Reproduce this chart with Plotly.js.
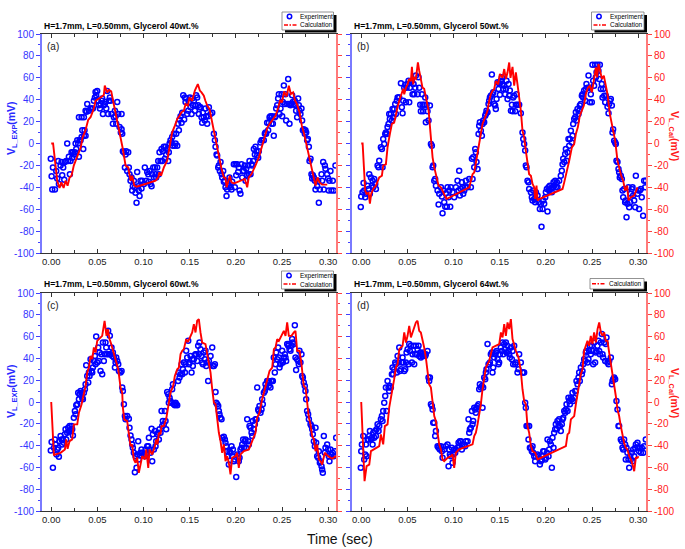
<!DOCTYPE html>
<html><head><meta charset="utf-8">
<script src="https://cdn.plot.ly/plotly-3.0.1.min.js"></script>
<style>html,body{margin:0;padding:0;background:#fff}#chart{width:685px;height:549px}</style>
</head><body><div id="chart"></div>
<script>
// ---------------- DATA ----------------
const panelTitles = ["H=1.7mm, L=0.50mm, Glycerol 40wt.%","H=1.7mm, L=0.50mm, Glycerol 50wt.%","H=1.7mm, L=0.50mm, Glycerol 60wt.%","H=1.7mm, L=0.50mm, Glycerol 64wt.%"];
const panelLabels = ["(a)","(b)","(c)","(d)"];
const xTickVals = [0,0.05,0.10,0.15,0.20,0.25,0.30];
const xTickText = ["0.00","0.05","0.10","0.15","0.20","0.25","0.30"];
const yTickVals = [-100,-80,-60,-40,-20,0,20,40,60,80,100];
const yTickText = ["-100","-80","-60","-40","-20","0","20","40","60","80","100"];

// Experiment (time s, mV) and Calculation (time s, mV)
const expA = [[-0.0005,-14],[0.0004,-30],[0.0018,-22],[0.0011,-42],[0.0040,-42],[0.0054,-25],[0.0065,-32],[0.0076,-16],[0.0083,-37],[0.0101,-20],[0.0112,-17],[0.0119,-29],[0.0130,-22],[0.0141,-33],[0.0148,-17],[0.0162,-16],[0.0173,0],[0.0184,-16],[0.0191,-12],[0.0202,-28],[0.0209,-16],[0.0220,-8],[0.0227,-13],[0.0235,-8],[0.0245,-10],[0.0256,-8],[0.0264,0],[0.0271,-5],[0.0282,3],[0.0292,0],[0.0300,-12],[0.0307,3],[0.0318,3],[0.0329,6],[0.0336,12],[0.0347,-5],[0.0354,7],[0.0361,12],[0.0372,7],
[0.0300,24],[0.0329,24],[0.0354,24],[0.0372,30],[0.0383,29],[0.0390,36],[0.0408,30],[0.0426,32],[0.0437,32],[0.0451,32],[0.0462,39],[0.0473,42],[0.0480,47],[0.0487,44],[0.0498,48],[0.0505,39],[0.0516,35],[0.0527,32],[0.0534,36],[0.0545,39],[0.0552,41],[0.0560,27],[0.0570,35],[0.0581,36],[0.0588,38],[0.0596,32],[0.0606,48],[0.0617,27],[0.0625,39],[0.0635,42],[0.0643,39],[0.0653,27],[0.0668,18],[0.0679,24],[0.0690,30],[0.0697,25],[0.0704,18],[0.0715,38],[0.0726,27],[0.0740,15],[0.0754,10],[0.0762,27],[0.0769,9],
[0.0762,13],[0.0776,-7],[0.0787,-8],[0.0798,-22],[0.0805,-10],[0.0812,-7],[0.0823,-25],[0.0834,-8],[0.0841,-22],[0.0848,-28],[0.0859,-34],[0.0870,-31],[0.0877,-43],[0.0884,-39],[0.0895,-34],[0.0906,-40],[0.0913,-45],[0.0924,-54],[0.0931,-26],[0.0942,-39],[0.0949,-43],[0.0957,-48],[0.0967,-34],[0.0978,-41],
[0.0986,-34],[0.1004,-37],[0.1014,-22],[0.1029,-34],[0.1040,-26],[0.1051,-28],[0.1058,-35],[0.1065,-25],[0.1076,-37],[0.1087,-39],[0.1094,-28],[0.1105,-22],[0.1112,-31],[0.1123,-22],[0.1130,-28],[0.1137,-31],[0.1148,-22],[0.1159,-16],[0.1166,-28],[0.1173,-8],[0.1184,-16],[0.1195,-5],[0.1202,-16],[0.1209,-7],[0.1220,-3],[0.1231,-14],[0.1238,-3],[0.1245,-10],[0.1256,-5],[0.1267,-16],[0.1274,-8],[0.1282,0],[0.1292,3],[0.1303,1],[0.1310,6],[0.1318,-2],[0.1328,9],[0.1339,-2],[0.1347,0],[0.1354,9],[0.1365,-2],[0.1375,18],[0.1383,12],[0.1390,22],[0.1401,25],[0.1412,19],[0.1419,28],[0.1430,44],[0.1440,22],[0.1448,42],[0.1455,38],[0.1462,41],[0.1473,27],[0.1484,30],[0.1491,38],[0.1502,42],[0.1509,33],[0.1520,27],[0.1527,41],[0.1534,35],[0.1545,39],[0.1556,30],[0.1563,35],[0.1570,44],[0.1581,42],[0.1592,35],[0.1599,27],[0.1606,33],[0.1617,33],[0.1628,24],[0.1635,19],[0.1643,28],[0.1653,24],[0.1664,21],[0.1671,32],[0.1679,25],[0.1689,18],[0.1700,25],[0.1708,33],[0.1726,27],[0.1744,28],
[0.1762,9],[0.1773,3],[0.1780,-3],[0.1791,-10],[0.1798,-11],[0.1809,-22],[0.1816,-20],[0.1827,-25],[0.1834,-17],[0.1845,-28],[0.1852,-31],[0.1863,-25],[0.1870,-35],[0.1881,-34],[0.1888,-40],[0.1899,-48],[0.1906,-42],[0.1917,-37],[0.1924,-39],[0.1931,-31],[0.1942,-40],[0.1953,-42],[0.1960,-35],[0.1978,-19],[0.1989,-40],[0.1996,-19],[0.2004,-29],[0.2014,-19],[0.2025,-26],[0.2032,-22],[0.2040,-43],[0.2050,-46],[0.2061,-19],[0.2069,-31],[0.2079,-25],[0.2087,-25],[0.2097,-20],[0.2105,-34],[0.2112,-23],[0.2123,-29],[0.2134,-20],[0.2141,-28],[0.2148,-16],[0.2159,-28],[0.2170,-19],[0.2177,-20],[0.2188,-16],[0.2195,-5],[0.2206,-10],[0.2213,-3],[0.2224,-7],[0.2231,-11],[0.2242,-13],[0.2249,-7],[0.2267,1],[0.2278,3],[0.2285,3],[0.2303,3],[0.2314,9],[0.2321,10],[0.2328,9],[0.2339,19],[0.2350,12],[0.2357,19],[0.2365,24],[0.2375,25],[0.2386,18],[0.2393,25],[0.2401,18],[0.2411,7],[0.2422,24],[0.2430,25],[0.2437,32],[0.2448,35],[0.2458,41],[0.2466,45],[0.2473,27],[0.2484,32],[0.2495,45],[0.2502,25],[0.2509,38],[0.2520,53],[0.2531,36],[0.2538,45],[0.2545,21],[0.2556,36],[0.2567,59],[0.2574,36],[0.2581,18],[0.2592,35],[0.2603,36],[0.2610,44],[0.2617,38],[0.2628,36],[0.2639,39],[0.2646,35],[0.2653,30],[0.2664,24],[0.2675,41],[0.2682,35],[0.2689,30],[0.2700,27],[0.2711,32],[0.2718,21],[0.2726,12],[0.2736,13],[0.2747,9],[0.2754,12],[0.2762,10],[0.2772,3],[0.2780,4],[0.2791,-3],[0.2798,-16],[0.2809,-14],[0.2819,-28],[0.2827,-32],[0.2834,-29],[0.2845,-31],[0.2856,-34],[0.2863,-42],[0.2881,-39],[0.2892,-34],[0.2899,-54],[0.2910,-42],[0.2928,-28],[0.2935,-34],[0.2946,-17],[0.2953,-42],[0.2964,-20],[0.2971,-23],[0.2989,-28],[0.3000,-32],[0.3007,-43],[0.3014,-34],[0.3025,-25],[0.3036,-43],[0.3050,-34],[0.3061,-43],[0.3079,-20]];

const calA = [[0,0],[0.002,0],[0.0065,-34],[0.009,-40.6],[0.011,-35.5],[0.0134,-40.6],[0.0155,-34],[0.0177,-38.5],[0.0199,-31],[0.022,-29.4],[0.0245,-20],[0.028,-12.6],[0.032,-3.5],[0.034,5.6],[0.037,11.7],[0.040,21.5],[0.0426,24],[0.046,31.5],[0.048,39],[0.0534,42],[0.057,44.3],[0.058,52.8],[0.0606,46.7],[0.0625,48.9],[0.065,47.6],[0.067,39],[0.0697,28.5],[0.0726,16.3],[0.075,5.6],[0.0776,-5],[0.0805,-20],[0.0834,-21.8],[0.086,-34],[0.0877,-29.4],[0.090,-38.5],[0.0924,-39.4],[0.102,-37],[0.113,-34],[0.1159,-31],[0.1173,-26.3],[0.119,-29.4],[0.122,-21.8],[0.1256,-15.7],[0.129,-0.5],[0.131,10.2],[0.134,16.3],[0.1365,22.4],[0.139,25.4],[0.141,28.5],[0.1437,30],[0.1455,36],[0.148,34.6],[0.1498,42],[0.1527,39],[0.1556,48.3],[0.1588,54.3],[0.161,48.3],[0.1628,46.7],[0.1653,43.7],[0.167,39],[0.169,34.6],[0.1715,31.5],[0.1736,20.9],[0.1758,13.2],[0.178,4],[0.180,-5],[0.1823,-15.7],[0.1845,-23.3],[0.187,-31],[0.1888,-31.5],[0.190,-40],[0.1917,-35.5],[0.1935,-29.4],[0.1953,-35.5],[0.198,-36.4],[0.2097,-32.4],[0.2123,-40],[0.214,-31],[0.217,-27.9],[0.2213,-20],[0.225,-12.6],[0.2285,-2],[0.2314,7.2],[0.2343,14.8],[0.237,18.4],[0.240,22.4],[0.243,25.4],[0.2458,32.4],[0.248,39.7],[0.250,37.6],[0.2523,47.6],[0.2549,42.8],[0.2574,52.8],[0.2596,45.2],[0.262,46.7],[0.2639,39.7],[0.2664,35.5],[0.269,28.5],[0.2715,16.3],[0.274,8.7],[0.2765,-0.5],[0.279,-9.6],[0.282,-20],[0.2845,-31],[0.2863,-38.5],[0.2884,-31],[0.2906,-35.5],[0.2935,-37.6],[0.299,-37.6]];

const expB = [[-0.0005,-58],[0,-48.5],[0.0014,-44.6],[0.0025,-36],[0.0032,-43],[0.0043,-49],[0.0051,-46],[0.0069,-38.5],[0.0079,-41.5],[0.0087,-28],[0.0094,-46],[0.0105,-31],[0.0116,-38.5],[0.0123,-34],[0.0130,-40],[0.0141,-32.4],[0.0152,-37],[0.0159,-41.5],[0.0177,-20],[0.0188,-21.8],[0.0195,-15.7],[0.0213,-3.5],[0.0224,-5],[0.0231,-21.8],[0.0238,4],[0.0249,-0.5],[0.0260,8.7],[0.0267,10],[0.0278,8.7],[0.0285,15],[0.0296,17.8],[0.0303,27],[0.0310,22.4],[0.0321,27],[0.0332,21],[0.0339,31.5],[0.0346,24],[0.0357,31.5],[0.0368,36],[0.0375,27],[0.0386,39],[0.0394,42],[0.0404,42],[0.0412,42],[0.0430,55],[0.0440,33],[0.0448,27.6],[0.0455,39],[0.0466,51],[0.0477,53.7],[0.0484,37.6],[0.0491,51],[0.0502,54.3],[0.0513,57.4],[0.0520,37.6],[0.0527,51],[0.0538,56],[0.0549,57.4],[0.0556,45],[0.0567,54.3],[0.0574,45],[0.0585,51],[0.0592,62],[0.0610,45],[0.0621,60.4],[0.0628,51],[0.0639,35.5],[0.0646,29.4],[0.0657,45],[0.0664,35.5],[0.0671,29.4],[0.0682,35.5],[0.0693,42],[0.0700,19.3],[0.0708,35.5],[0.0718,29.4],[0.0729,21],[0.0744,34.6],[0.0755,-0.5],[0.0765,-2],[0.0773,-21.8],[0.0780,-20],[0.0791,-34],[0.0801,-32.4],[0.0809,-38.5],[0.0827,-43],[0.0838,-55.8],[0.0845,-46],[0.0863,-40],[0.0874,-48.5],[0.0881,-63.8],[0.0888,-43],[0.0899,-53.7],[0.0910,-57.7],[0.0917,-45.5],[0.0928,-57.7],[0.0935,-40],[0.0946,-49],[0.0953,-43],[0.0964,-57.7],[0.0971,-40],[0.0989,-44.6],[0.1007,-49],[0.1025,-40],[0.1043,-34],[0.1054,-43],[0.1061,-24.8],[0.1069,-47.6],[0.1079,-41.5],[0.1090,-35.5],[0.1097,-40],[0.1105,-46],[0.1116,-43],[0.1126,-40],[0.1134,-34],[0.1152,-40],[0.1170,-32.4],[0.1188,-40],[0.1199,-14],[0.1206,-32.4],[0.1213,-12.6],[0.1224,-21.8],[0.1235,-5],[0.1242,-8],[0.1249,-17],[0.1260,-23.3],[0.1271,8.7],[0.1278,16.3],[0.1285,19.3],[0.1296,11.7],[0.1307,7],[0.1314,17.8],[0.1321,21],[0.1332,19.3],[0.1343,25.4],[0.1350,27],[0.1357,30],[0.1368,28.5],[0.1379,36],[0.1386,39],[0.1394,42],[0.1404,43.7],[0.1415,62.9],[0.1422,45],[0.1430,46.7],[0.1440,36],[0.1451,34.6],[0.1458,31.5],[0.1466,40.6],[0.1477,55.9],[0.1487,49.8],[0.1494,55],[0.1502,44.6],[0.1512,57.4],[0.1523,60.4],[0.1530,54.3],[0.1538,49.8],[0.1549,52.8],[0.1559,45],[0.1567,49.8],[0.1574,57.4],[0.1585,40.6],[0.1596,54.3],[0.1603,43.7],[0.1610,48.3],[0.1621,30],[0.1632,35.5],[0.1639,29.4],[0.1646,42],[0.1657,43.7],[0.1668,29.4],[0.1675,35.5],[0.1682,45],[0.1693,35.5],[0.1711,35.5],[0.1729,27.6],[0.1747,10],[0.1755,4],[0.1765,-0.5],[0.1776,-6.5],[0.1783,-20],[0.1791,-21.8],[0.1801,-34],[0.1812,-35.5],[0.1819,-41.5],[0.1838,-44.6],[0.1848,-49],[0.1856,-52],[0.1863,-43],[0.1874,-50.7],[0.1884,-53.7],[0.1892,-44.6],[0.1910,-47.6],[0.1921,-53.7],[0.1935,-59.8],[0.1946,-55],[0.1953,-76],[0.1964,-59.8],[0.1971,-52],[0.1982,-55],[0.1993,-49],[0.2000,-44.6],[0.2011,-41.5],[0.2018,-62],[0.2029,-40],[0.2036,-43],[0.2043,-38.5],[0.2054,-41.5],[0.2065,-44.6],[0.2072,-40],[0.2083,-35.5],[0.2090,-38.5],[0.2101,-34],[0.2108,-40],[0.2119,-35.5],[0.2126,-40],[0.2144,-34],[0.2162,-29.4],[0.2173,-24.8],[0.2181,-19],[0.2188,-14],[0.2199,-17],[0.2209,-9.6],[0.2217,-5],[0.2224,-15.7],[0.2235,-8],[0.2245,4],[0.2253,-2],[0.2260,4],[0.2271,11.7],[0.2282,1],[0.2289,7],[0.2296,17.8],[0.2307,22.4],[0.2318,24],[0.2325,28.5],[0.2332,21],[0.2343,31.5],[0.2354,27],[0.2361,30],[0.2368,34.6],[0.2379,36],[0.2390,43.7],[0.2397,45],[0.2404,42],[0.2415,48.3],[0.2426,39],[0.2433,49.8],[0.2440,54.3],[0.2451,51],[0.2462,62],[0.2469,51],[0.2477,37.6],[0.2487,45],[0.2498,37.6],[0.2505,72],[0.2513,57.4],[0.2523,52.8],[0.2534,72],[0.2542,60.4],[0.2549,65],[0.2559,72],[0.2570,66.5],[0.2578,59],[0.2585,72],[0.2596,49.8],[0.2606,54.3],[0.2614,42],[0.2621,49.8],[0.2632,43.7],[0.2643,37.6],[0.2650,43.7],[0.2668,33.6],[0.2679,27.6],[0.2686,36],[0.2693,39],[0.2704,40.6],[0.2715,34.6],[0.2722,10],[0.2729,13],[0.2740,2.6],[0.2751,1],[0.2758,-0.5],[0.2765,-15.7],[0.2776,-17],[0.2787,-23.3],[0.2794,-26.3],[0.2801,-31],[0.2812,-29.4],[0.2823,-32.4],[0.2830,-43],[0.2838,-49],[0.2848,-41.5],[0.2859,-53.7],[0.2866,-52],[0.2874,-67.4],[0.2884,-55],[0.2895,-40],[0.2903,-58.3],[0.2913,-53.7],[0.2920,-46],[0.2931,-41.5],[0.2939,-40],[0.2946,-47.6],[0.2957,-52],[0.2968,-58.3],[0.2975,-29.4],[0.2993,-46],[0.3003,-43],[0.3010,-59.8],[0.3018,-43],[0.3029,-41.5],[0.3039,-49],[0.3054,-66],[0.3065,-34],[0.3076,-40],[0.3083,-34]];

const calB = [[0,0],[0.0015,0],[0.0043,-43],[0.0058,-46],[0.008,-45],[0.0094,-55],[0.0108,-46],[0.013,-41.5],[0.0159,-38.5],[0.0177,-35.5],[0.0195,-31],[0.0224,-29.4],[0.0238,-20],[0.0267,-19],[0.0285,-3.5],[0.031,8.7],[0.0332,18],[0.0357,19],[0.0375,27],[0.0393,33],[0.0412,39],[0.044,45],[0.0455,50],[0.0466,45],[0.0484,51],[0.0502,54],[0.052,59],[0.0538,57],[0.0549,70],[0.0563,54],[0.0574,60],[0.0592,59],[0.0614,74],[0.0628,66.5],[0.0646,57],[0.0664,51],[0.0682,50],[0.0708,40.6],[0.073,30],[0.0751,9],[0.0773,-12.6],[0.0791,-21.8],[0.0809,-28],[0.0838,-38.5],[0.0863,-40],[0.0881,-43],[0.0899,-46],[0.0924,-50.7],[0.1170,-40],[0.1188,-34],[0.1206,-28],[0.1224,-26.5],[0.1249,-14],[0.1271,-5],[0.1296,8.7],[0.1314,17.8],[0.1343,24],[0.1368,30],[0.1386,39],[0.1404,45],[0.1422,48],[0.144,49.5],[0.1458,57],[0.1484,54],[0.1502,63.5],[0.1531,60],[0.1549,68],[0.1567,59],[0.1585,65],[0.1603,74],[0.1617,60],[0.1639,70],[0.1657,52.8],[0.1675,65],[0.1693,54],[0.1711,43.7],[0.1729,30],[0.1747,11.7],[0.1765,5.6],[0.1783,-6.5],[0.1801,-19],[0.1819,-28],[0.1838,-29.4],[0.1856,-37],[0.1874,-40],[0.1884,-50.7],[0.1899,-38.5],[0.191,-52],[0.1928,-50.7],[0.2181,-41.5],[0.2199,-35.5],[0.2217,-29.4],[0.2235,-21.8],[0.2253,-15.7],[0.2282,-3.5],[0.2307,-0.5],[0.2325,8.7],[0.2347,15],[0.2368,25.4],[0.239,30],[0.2412,34.6],[0.2433,45],[0.2455,51],[0.2477,52.8],[0.2498,46.7],[0.252,57.4],[0.2542,69.6],[0.2556,60.4],[0.2570,72.6],[0.2588,66.5],[0.2607,59],[0.2628,62],[0.265,52.8],[0.2668,45],[0.2693,27],[0.2715,17.8],[0.2729,11.7],[0.2751,2.6],[0.2776,-15.7],[0.2794,-21.8],[0.2816,-29.4],[0.2838,-34],[0.2859,-43],[0.2881,-38.5],[0.2895,-52],[0.2921,-49],[0.2957,-47.6],[0.2993,-40]];

const expC = [[-0.0005,-44.5],[0.0004,-36.8],[0.0018,-60.4],[0.0029,-42],[0.0040,-34.3],[0.0047,-38.9],[0.0058,-48.1],[0.0065,-43.5],[0.0076,-42],[0.0083,-50.3],[0.0090,-35.9],[0.0101,-31.3],[0.0112,-34.3],[0.0119,-38.9],[0.0126,-34.3],[0.0137,-37.4],[0.0148,-29.7],[0.0155,-25.1],[0.0162,-34.3],[0.0173,-28.2],[0.0184,-23.6],[0.0191,-26.7],[0.0199,-22.1],[0.0209,-26.7],[0.0220,-22.1],[0.0227,-25.1],[0.0235,-30.7],[0.0245,-14.4],[0.0256,-8.3],[0.0264,-11.3],[0.0271,-3],[0.0282,-2.1],[0.0292,8.6],[0.0300,2.5],[0.0307,7],[0.0318,10.1],[0.0329,8.6],[0.0336,4],[0.0343,2.5],[0.0354,8.6],[0.0365,11.7],[0.0372,16.2],[0.0379,33.7],[0.0390,23.9],[0.0401,17.8],[0.0408,27],[0.0415,23.9],[0.0426,39.3],[0.0437,28.5],[0.0444,27],[0.0451,31.6],[0.0462,37.7],[0.0473,42.3],[0.0480,34.7],[0.0487,60.1],[0.0498,36.2],[0.0509,50],[0.0516,37.7],[0.0523,45.4],[0.0534,28.5],[0.0545,43.9],[0.0552,25.4],[0.0560,54.6],[0.0570,37.7],[0.0581,43.9],[0.0588,54.6],[0.0596,50],[0.0606,43.9],[0.0617,65.3],[0.0625,43.9],[0.0635,60.7],[0.0643,43.9],[0.0653,50],[0.0661,42.3],[0.0668,45.4],[0.0679,40.8],[0.0690,31.6],[0.0697,36.2],[0.0704,40.8],[0.0715,37.7],[0.0726,34.7],[0.0733,28.5],[0.0751,27],[0.0762,28.5],[0.0769,13.2],[0.0776,10.1],[0.0787,-2.1],[0.0798,-12.9],[0.0805,-15.9],[0.0823,-12.9],[0.0841,-15.3],[0.0848,-23.6],[0.0859,-30.7],[0.0870,-34.3],[0.0877,-38.9],[0.0884,-42],[0.0895,-46.6],[0.0906,-64.4],[0.0913,-49.7],[0.0924,-60.4],[0.0931,-48.1],[0.0942,-35.9],[0.0949,-52.7],[0.0957,-49.1],[0.0967,-46.6],[0.0978,-43.5],[0.0986,-46.6],[0.1004,-48.1],[0.1014,-49.7],[0.1022,-43.5],[0.1029,-48.1],[0.1040,-40.5],[0.1051,-40.5],[0.1058,-32.8],[0.1065,-43.5],[0.1076,-46.6],[0.1087,-24.5],[0.1094,-54.3],[0.1101,-29.7],[0.1112,-43.5],[0.1123,-26.7],[0.1130,-40.5],[0.1137,-35.9],[0.1148,-29.7],[0.1159,-28.2],[0.1166,-34.3],[0.1173,-25.1],[0.1184,-28.2],[0.1195,-8.3],[0.1202,-22.1],[0.1209,-17.5],[0.1220,-20.5],[0.1231,-8.3],[0.1238,-17.5],[0.1245,-25.1],[0.1256,9.2],[0.1267,7],[0.1274,-0.6],[0.1282,4],[0.1292,0.9],[0.1303,-0.6],[0.1310,11.7],[0.1318,16.2],[0.1328,-2.1],[0.1339,-3],[0.1347,-0.6],[0.1354,-2.1],[0.1365,-3],[0.1375,19.3],[0.1383,27],[0.1390,22.4],[0.1401,25.4],[0.1412,34.7],[0.1419,25.4],[0.1426,30],[0.1437,36.2],[0.1448,27],[0.1455,34.7],[0.1462,47],[0.1473,40.8],[0.1484,56.1],[0.1491,34.7],[0.1498,36.2],[0.1509,42.3],[0.1520,27],[0.1527,39.3],[0.1534,33.1],[0.1545,39.3],[0.1556,43],[0.1563,43.9],[0.1570,43.9],[0.1581,37.7],[0.1592,51.5],[0.1599,43.9],[0.1606,54.6],[0.1617,48.5],[0.1628,42.3],[0.1635,36.2],[0.1643,34.7],[0.1653,45.4],[0.1664,39.3],[0.1671,47],[0.1679,33.1],[0.1689,36.2],[0.1700,19.3],[0.1708,37.7],[0.1726,42.3],[0.1744,50],[0.1751,33.1],[0.1762,33.1],[0.1773,34.7],[0.1780,9.2],[0.1787,-0.6],[0.1798,-2.1],[0.1809,-3.7],[0.1816,-8.3],[0.1823,-11.3],[0.1834,-14.4],[0.1845,-15.9],[0.1852,-32.8],[0.1870,-31.9],[0.1881,-34.3],[0.1888,-37.4],[0.1895,-40.5],[0.1906,-45.1],[0.1917,-49.7],[0.1924,-57.4],[0.1931,-45.1],[0.1942,-46.6],[0.1953,-40.5],[0.1960,-49.7],[0.1968,-43.5],[0.1978,-54.3],[0.1989,-52.7],[0.2004,-68.7],[0.2014,-48.1],[0.2025,-49.7],[0.2032,-54.3],[0.2040,-51.2],[0.2050,-43.5],[0.2061,-42],[0.2069,-38.9],[0.2079,-34.3],[0.2087,-42],[0.2097,-35.9],[0.2105,-34.3],[0.2112,-42],[0.2123,-15.9],[0.2134,-35.9],[0.2141,-38.9],[0.2148,-22.1],[0.2159,-23.6],[0.2170,-28.2],[0.2177,-31.3],[0.2184,-17.5],[0.2195,-25.1],[0.2206,-20.5],[0.2213,-15.9],[0.2224,-15.9],[0.2231,13.2],[0.2242,-6.8],[0.2249,-8.3],[0.2256,-3.7],[0.2267,-9.8],[0.2278,-6.8],[0.2285,2.5],[0.2292,-2.1],[0.2303,8.6],[0.2314,10.1],[0.2321,16.2],[0.2328,13.2],[0.2339,19.3],[0.2350,19.3],[0.2357,14.7],[0.2365,17.8],[0.2375,13.2],[0.2386,19.3],[0.2393,19.3],[0.2401,19.3],[0.2411,40.8],[0.2422,27],[0.2430,34.7],[0.2437,45.4],[0.2448,39.3],[0.2458,50],[0.2466,40.8],[0.2473,31.6],[0.2484,34.7],[0.2495,37.7],[0.2502,47],[0.2509,36.2],[0.2520,40.8],[0.2531,43.9],[0.2538,40.8],[0.2545,37.7],[0.2556,53.1],[0.2567,51.5],[0.2574,53.1],[0.2581,48.5],[0.2592,47],[0.2603,51.5],[0.2610,57.7],[0.2617,54.6],[0.2628,53.1],[0.2639,70.5],[0.2646,40.8],[0.2653,29.4],[0.2664,39.3],[0.2675,37.7],[0.2682,34.7],[0.2689,47],[0.2700,36.2],[0.2711,43.9],[0.2718,23.9],[0.2726,22.4],[0.2736,17.8],[0.2747,14.7],[0.2754,10.1],[0.2762,2.5],[0.2772,-8.3],[0.2783,-11.3],[0.2791,-15.9],[0.2809,-20.5],[0.2819,-22.1],[0.2827,-25.1],[0.2834,-29.7],[0.2845,-35.9],[0.2856,-40.5],[0.2863,-23.6],[0.2870,-37.4],[0.2881,-49.7],[0.2892,-51.2],[0.2899,-45.1],[0.2910,-55.8],[0.2917,-54.3],[0.2928,-58.9],[0.2935,-62],[0.2942,-65],[0.2953,-31.3],[0.2964,-46.6],[0.2971,-42],[0.2989,-38.9],[0.3000,-43.5],[0.3007,-49.7],[0.3014,-54.3],[0.3025,-43.5],[0.3036,-48.1],[0.3050,-46.6],[0.3061,-49.7],[0.3072,-45.1],[0.3087,-32.8]];

const calC = [[0,0],[0.0029,-49],[0.0047,-48],[0.0101,-46.6],[0.0148,-43.5],[0.0162,-34.3],[0.0177,-42.9],[0.0199,-35.9],[0.0227,-34.3],[0.0245,-20.5],[0.0282,-20.5],[0.030,-9.8],[0.0329,-2.1],[0.0354,8.6],[0.0372,14.7],[0.039,27],[0.0408,31.6],[0.0426,42.3],[0.0444,39.3],[0.0462,50],[0.048,45.4],[0.0498,56.1],[0.0552,60.7],[0.0578,74.5],[0.0599,60.7],[0.0614,66.9],[0.0632,57.7],[0.065,53.1],[0.0668,47],[0.0697,37.7],[0.0726,30],[0.0751,13.2],[0.0769,8.6],[0.0776,-5.2],[0.0791,-15.9],[0.0823,-17.5],[0.0841,-31.3],[0.0859,-40.5],[0.0877,-39],[0.0895,-52.7],[0.0913,-55.8],[0.0931,-51],[0.0949,-65],[0.0968,-55.8],[0.0986,-49.7],[0.1014,-52.7],[0.1029,-43.5],[0.1051,-60.4],[0.1065,-43.5],[0.1094,-48.1],[0.1123,-40.5],[0.1137,-34.3],[0.1152,-38.9],[0.1166,-28.2],[0.1184,-29.7],[0.1195,-22.1],[0.122,-22.1],[0.1245,-15.9],[0.1274,-0.6],[0.1292,8.6],[0.1321,14.7],[0.1339,23.9],[0.1365,30],[0.1383,31.6],[0.1401,43.9],[0.1419,47],[0.1437,48.5],[0.1462,57.7],[0.148,55],[0.1509,60.7],[0.1527,63.8],[0.1545,71.5],[0.1563,63.8],[0.1581,74.5],[0.1599,76],[0.1617,63.8],[0.1635,54.6],[0.1671,53.1],[0.1708,34.7],[0.1726,27],[0.1744,11.7],[0.1762,-0.6],[0.178,-2.1],[0.1798,-15.9],[0.1816,-28.2],[0.1834,-35.9],[0.1852,-46.6],[0.187,-38.9],[0.1888,-54.3],[0.1906,-49.7],[0.1924,-55.8],[0.1942,-66.5],[0.196,-51.2],[0.1996,-49.7],[0.2014,-46.6],[0.2032,-60.4],[0.2051,-48.1],[0.2087,-45.1],[0.2141,-43.5],[0.2177,-35.9],[0.2213,-28.2],[0.2231,-14.4],[0.2256,-9.8],[0.2285,2.5],[0.2314,11.7],[0.2339,20.9],[0.2365,28.5],[0.2394,31.6],[0.2412,48.5],[0.243,50],[0.2448,57.7],[0.2466,56.1],[0.2495,60.7],[0.252,65.3],[0.2538,60.7],[0.2556,73],[0.2574,60.7],[0.2603,60.7],[0.2628,63.8],[0.2646,65.3],[0.2664,47],[0.269,47],[0.2711,34.7],[0.2736,14.7],[0.2755,13.2],[0.2773,-0.6],[0.2791,-14.4],[0.2809,-20.5],[0.2827,-31.3],[0.2845,-34.3],[0.2863,-45.1],[0.2881,-38.9],[0.2899,-52.7],[0.2917,-54.3],[0.2935,-57.4],[0.2964,-46.6],[0.300,-49.7],[0.3043,-52],[0.3087,-49.7]];

const expD = [[-0.0005,-60.4],[0,-45.1],[0.0007,-38.9],[0.0022,-31.3],[0.0032,-52.7],[0.0043,-48.1],[0.0051,-38.9],[0.0058,-49.7],[0.0069,-34.3],[0.0079,-34.3],[0.0087,-31.3],[0.0094,-26.7],[0.0105,-34.3],[0.0116,-32.8],[0.0123,-38.9],[0.0130,-28.2],[0.0141,-32.8],[0.0152,-26.7],[0.0159,-31.3],[0.0166,-25.1],[0.0177,-20.5],[0.0188,-26.7],[0.0195,-22.1],[0.0213,-15.9],[0.0224,-12.9],[0.0231,-17.5],[0.0238,-8.3],[0.0249,-0.6],[0.0260,5.5],[0.0267,13.2],[0.0274,-8.3],[0.0285,19.3],[0.0296,13.2],[0.0303,10.1],[0.0310,14.7],[0.0321,13.2],[0.0332,25.4],[0.0339,31.6],[0.0346,25.4],[0.0357,30],[0.0368,36.2],[0.0375,34.7],[0.0386,27],[0.0394,42.3],[0.0404,36.2],[0.0412,50],[0.0419,28.5],[0.0430,30],[0.0440,36.2],[0.0448,40.8],[0.0455,36.2],[0.0466,28.5],[0.0477,30],[0.0484,36.2],[0.0491,45.4],[0.0502,48.5],[0.0513,34.7],[0.0520,53.1],[0.0527,46.9],[0.0538,51.5],[0.0549,36.2],[0.0556,43.9],[0.0567,51.5],[0.0574,34.7],[0.0585,43.9],[0.0592,51.5],[0.0599,43.9],[0.0610,48.5],[0.0621,51.5],[0.0628,42.3],[0.0639,45.4],[0.0646,40.8],[0.0657,43.9],[0.0664,42.3],[0.0671,45.4],[0.0682,43.9],[0.0693,42.3],[0.0700,43.9],[0.0718,46.9],[0.0729,22.4],[0.0736,19.3],[0.0744,22.4],[0.0755,-2.1],[0.0765,-3.7],[0.0773,-6.8],[0.0780,-19],[0.0791,-19],[0.0801,-31.3],[0.0809,-26.7],[0.0827,-40.5],[0.0838,-42],[0.0845,-40.5],[0.0852,-43.5],[0.0863,-40.5],[0.0874,-45.1],[0.0881,-51.2],[0.0899,-43.5],[0.0917,-40.5],[0.0935,-38.9],[0.0946,-58.9],[0.0953,-43.5],[0.0960,-48.1],[0.0971,-49.7],[0.0982,-42],[0.0989,-55.8],[0.0996,-48.1],[0.1007,-43.5],[0.1018,-46.6],[0.1025,-43.5],[0.1043,-42],[0.1054,-37.4],[0.1061,-40.5],[0.1069,-35.9],[0.1079,-35.9],[0.1090,-43.5],[0.1097,-38.9],[0.1116,-38.9],[0.1126,-40.5],[0.1134,-35.9],[0.1152,-35.9],[0.1162,-15.9],[0.1170,-28.2],[0.1177,-25.1],[0.1188,-23.6],[0.1199,-8.3],[0.1206,-20.5],[0.1213,-17.5],[0.1224,-5.2],[0.1235,-6.8],[0.1242,-9.8],[0.1249,-5.2],[0.1260,-3.7],[0.1271,-2.1],[0.1278,11.7],[0.1285,16.2],[0.1296,13.2],[0.1307,14.7],[0.1314,-5.2],[0.1321,13.2],[0.1332,22.4],[0.1343,20.9],[0.1350,27],[0.1357,30],[0.1368,53.1],[0.1379,34.7],[0.1386,34.7],[0.1394,36.2],[0.1404,43.9],[0.1415,45.4],[0.1422,27],[0.1430,31.6],[0.1440,40.8],[0.1451,43.9],[0.1458,45.4],[0.1466,46.9],[0.1477,39.3],[0.1487,34.7],[0.1494,36.2],[0.1502,43.9],[0.1512,50],[0.1523,46.9],[0.1530,54.6],[0.1538,43.9],[0.1549,53.1],[0.1559,48.5],[0.1567,54.6],[0.1574,45.4],[0.1585,51.5],[0.1596,46.9],[0.1603,43.9],[0.1610,40.8],[0.1621,50],[0.1632,39.3],[0.1639,46.9],[0.1646,34.7],[0.1657,51.5],[0.1668,34.7],[0.1675,36.2],[0.1693,27],[0.1704,30],[0.1711,43.9],[0.1729,36.2],[0.1747,27],[0.1755,27],[0.1765,27],[0.1776,-0.6],[0.1783,-5.2],[0.1791,-22.1],[0.1801,-22.1],[0.1812,-34.3],[0.1819,-22.1],[0.1827,-42],[0.1838,-42],[0.1848,-45.1],[0.1856,-40.5],[0.1863,-46.6],[0.1874,-49.7],[0.1884,-54.3],[0.1892,-49.7],[0.1910,-48.1],[0.1921,-49.7],[0.1935,-57.4],[0.1946,-54.3],[0.1957,-52.7],[0.1964,-49.7],[0.1971,-45.1],[0.1982,-45.1],[0.1993,-52.7],[0.2000,-51.2],[0.2011,-46.6],[0.2018,-34.3],[0.2029,-49.7],[0.2036,-43.5],[0.2043,-35.9],[0.2054,-38.9],[0.2065,-60.4],[0.2072,-32.8],[0.2083,-42],[0.2090,-28.2],[0.2101,-25.1],[0.2108,-20.5],[0.2119,-25.1],[0.2126,-17.5],[0.2137,-22.1],[0.2144,-15.9],[0.2152,-22.1],[0.2162,-26.7],[0.2173,-20.5],[0.2181,-15.9],[0.2188,-14.4],[0.2199,-8.3],[0.2209,-9.8],[0.2217,-6.8],[0.2224,-2.1],[0.2235,-8.3],[0.2245,4],[0.2253,1],[0.2260,-2.1],[0.2271,4],[0.2282,2.5],[0.2289,8.6],[0.2296,1],[0.2307,4],[0.2318,10.1],[0.2325,10.1],[0.2332,19.3],[0.2343,16.2],[0.2354,22.4],[0.2361,27],[0.2368,19.3],[0.2379,31.6],[0.2390,25.4],[0.2397,28.5],[0.2404,34.7],[0.2415,39.3],[0.2426,37.7],[0.2433,45.4],[0.2440,46.9],[0.2451,36.2],[0.2462,39.3],[0.2469,46.9],[0.2477,51.5],[0.2487,43.9],[0.2498,51.5],[0.2505,46.9],[0.2513,34.7],[0.2523,54.6],[0.2534,36.2],[0.2542,45.4],[0.2549,46.9],[0.2559,51.5],[0.2570,56.1],[0.2578,46.9],[0.2585,43.9],[0.2596,54.6],[0.2606,62.3],[0.2614,43.9],[0.2621,40.8],[0.2632,54.6],[0.2643,37.7],[0.2650,53.1],[0.2657,59.2],[0.2668,36.2],[0.2679,34.7],[0.2686,37.7],[0.2704,40.8],[0.2715,16.2],[0.2722,19.3],[0.2729,20.9],[0.2740,22.4],[0.2751,20.9],[0.2765,1],[0.2776,-6.8],[0.2787,-22.1],[0.2794,-22.1],[0.2812,-34.3],[0.2823,-35.9],[0.2830,-42],[0.2838,-43.5],[0.2848,-34.3],[0.2859,-38.9],[0.2866,-52.7],[0.2874,-42],[0.2884,-46.6],[0.2895,-52.7],[0.2903,-60.4],[0.2913,-49.7],[0.2920,-52.7],[0.2931,-46.6],[0.2939,-54.3],[0.2946,-43.5],[0.2957,-49.7],[0.2968,-42],[0.2975,-38.9],[0.2993,-37.4],[0.3003,-42],[0.3010,-45.1],[0.3018,-42],[0.3029,-46.6],[0.3039,-42],[0.3054,-46.6],[0.3065,-40.5],[0.3083,-34.3]];

const calD = [[0,0],[0.0036,-72.7],[0.0058,-58.9],[0.0087,-57.4],[0.0105,-45.1],[0.0141,-43.5],[0.0195,-40.5],[0.0213,-29.7],[0.0238,-38.9],[0.0256,-22.1],[0.0285,-20.5],[0.0303,-5.2],[0.0321,2.5],[0.0339,11.7],[0.0357,20.9],[0.0375,31.6],[0.0394,34.7],[0.0412,48.5],[0.043,50],[0.0448,51.5],[0.0466,63.8],[0.0484,54.6],[0.0502,60.7],[0.052,69.9],[0.0538,59.2],[0.0556,63.8],[0.0574,68.4],[0.0592,73],[0.061,74.5],[0.0628,65.3],[0.0646,63.8],[0.0664,57.7],[0.0682,50],[0.07,40.8],[0.0718,30],[0.0736,16.2],[0.0755,13.2],[0.0773,-2.1],[0.0791,-12.9],[0.0809,-17.5],[0.0827,-31.3],[0.0845,-38.9],[0.0863,-43.5],[0.0881,-52.7],[0.0899,-54.3],[0.0935,-51.2],[0.0971,-49.7],[0.0989,-48.1],[0.1007,-60.4],[0.1025,-46.6],[0.1061,-43.5],[0.1206,-38.9],[0.1224,-31.3],[0.1242,-28.2],[0.126,-20.5],[0.1296,-2.1],[0.1314,11.7],[0.1332,23.9],[0.135,31.6],[0.1386,37.7],[0.1422,50],[0.1495,53.1],[0.1513,63.8],[0.1531,59.2],[0.1549,71.5],[0.1567,60.7],[0.1585,73],[0.1603,66.9],[0.1621,76],[0.1639,57.7],[0.1657,51.5],[0.1675,47],[0.1704,40.8],[0.1729,28.5],[0.1747,11.7],[0.1765,1],[0.1783,-2.1],[0.1801,-22.1],[0.1819,-28.2],[0.1838,-40.5],[0.1856,-45.1],[0.1884,-46.6],[0.191,-52.7],[0.2217,-40.5],[0.2235,-29.7],[0.2253,-28.2],[0.2271,-15.9],[0.2307,-12.9],[0.2325,-2.1],[0.2343,8.6],[0.2361,17.8],[0.2379,25.4],[0.2397,30],[0.2415,47],[0.2433,51.5],[0.2451,56.1],[0.2469,51.5],[0.2487,60.7],[0.2505,53.1],[0.2523,63.8],[0.2542,54.6],[0.256,66.9],[0.2578,73],[0.2596,63.8],[0.2614,60.7],[0.2632,63.8],[0.265,56.1],[0.2668,56.1],[0.2686,45.4],[0.2715,30],[0.274,13.2],[0.2758,5.5],[0.2776,-6.8],[0.2794,-12.9],[0.2812,-22.1],[0.283,-31.3],[0.2848,-37.4],[0.2866,-42],[0.2884,-43.5],[0.2903,-49.7],[0.2921,-52.7],[0.2939,-57.4],[0.2957,-63.5],[0.2975,-51.2],[0.2993,-51.2],[0.3004,-49.7]];

// ---------------- LAYOUT ----------------
const W = 685, H = 549;
const px = x => x / W;
const py = y => 1 - y / H;
const FONT = 'Arial, "Liberation Sans", sans-serif';
const BLUE = '#0000ff', RED = '#ff0000';

const xDom = [[px(42), px(336)], [px(352), px(646)], [px(42), px(336)], [px(352), px(646)]];
const yDom = [[py(253), py(34)], [py(253), py(34)], [py(511), py(293)], [py(511), py(293)]];

const exps = [expA, expB, expC, expD];
const cals = [calA, calB, calC, calD];

const data = [];
const layout = {
  width: W, height: H, margin: {l: 0, r: 0, t: 0, b: 0},
  paper_bgcolor: '#fff', plot_bgcolor: '#fff', showlegend: false,
  font: {family: FONT}, annotations: [], shapes: []
};

for (let i = 0; i < 4; i++) {
  const n = i + 1, nr = i + 5;
  const xa = 'xaxis' + (n === 1 ? '' : n), ya = 'yaxis' + (n === 1 ? '' : n), yr = 'yaxis' + nr;
  const xid = 'x' + (n === 1 ? '' : n), yid = 'y' + (n === 1 ? '' : n), yrid = 'y' + nr;
  const isLeft = (i % 2 === 0);
  layout[xa] = {
    domain: xDom[i], anchor: yid, range: [-0.01, 0.3085],
    tickmode: 'array', tickvals: xTickVals, ticktext: xTickText,
    ticks: 'inside', ticklen: 4, tickwidth: 1, tickcolor: '#333',
    showline: true, linecolor: '#333', linewidth: 1, mirror: 'ticks',
    showgrid: false, zeroline: false,
    tickfont: {size: 9.5, color: '#222', family: FONT},
    minor: {tick0: 0, dtick: 0.025, ticks: 'inside', ticklen: 3, tickcolor: '#333', showgrid: false}
  };
  layout[ya] = {
    domain: yDom[i], anchor: xid, range: [-100, 100],
    tickmode: 'array', tickvals: yTickVals, ticktext: yTickText,
    ticks: 'outside', ticklen: 4, tickwidth: 1, tickcolor: '#4040ff',
    showline: true, linecolor: '#7a7aff', linewidth: 2,
    showgrid: false, zeroline: false, showticklabels: isLeft,
    tickfont: {size: 10, color: '#3535ff', family: FONT},
    minor: {tick0: 0, dtick: 10, ticks: 'outside', ticklen: 2, tickcolor: '#4040ff', showgrid: false}
  };
  layout[yr] = {
    overlaying: yid, anchor: xid, side: 'right', range: [-100, 100],
    tickmode: 'array', tickvals: yTickVals, ticktext: yTickText,
    ticks: 'outside', ticklen: 4, tickwidth: 1, tickcolor: '#ff4040',
    showline: true, linecolor: '#ff7a7a', linewidth: 2,
    showgrid: false, zeroline: false, showticklabels: !isLeft,
    tickfont: {size: 10, color: '#ff2020', family: FONT},
    minor: {tick0: 0, dtick: 10, ticks: 'outside', ticklen: 2, tickcolor: '#ff4040', showgrid: false}
  };
  data.push({
    type: 'scatter', mode: 'markers', xaxis: xid, yaxis: yid, name: 'Experiment',
    x: exps[i].map(p => p[0]), y: exps[i].map(p => p[1]),
    marker: {symbol: 'circle-open', size: 5, color: BLUE, line: {width: 1.5, color: BLUE}}
  });
  data.push({
    type: 'scatter', mode: 'lines', xaxis: xid, yaxis: yrid, name: 'Calculation',
    x: cals[i].map(p => p[0]), y: cals[i].map(p => p[1]),
    line: {color: RED, width: 1.9}
  });
  // panel title and label
  const left = isLeft ? 42 : 352;
  const topY = i < 2 ? 26.5 : 284;
  layout.annotations.push({text: '<b>' + panelTitles[i] + '</b>', x: px(left), y: py(topY), xref: 'paper', yref: 'paper',
    xanchor: 'left', yanchor: 'middle', showarrow: false, font: {size: 8.5, color: '#000', family: FONT}});
  layout.annotations.push({text: panelLabels[i], x: px(left + 3), y: py(i < 2 ? 46 : 305), xref: 'paper', yref: 'paper',
    xanchor: 'left', yanchor: 'middle', showarrow: false, font: {size: 10, color: '#222', family: FONT}});
}

// axis titles
[128, 391].forEach(cy => {
  layout.annotations.push({text: '<b>V<sub>L_EXP</sub>(mV)</b>', x: px(12), y: py(cy), xref: 'paper', yref: 'paper',
    textangle: -90, showarrow: false, xanchor: 'center', yanchor: 'middle', font: {size: 10.5, color: '#2a2aff', family: FONT}});
});
[136, 393].forEach(cy => {
  layout.annotations.push({text: '<b>V<sub>L_Cal</sub>(mV)</b>', x: px(674), y: py(cy), xref: 'paper', yref: 'paper',
    textangle: 90, showarrow: false, xanchor: 'center', yanchor: 'middle', font: {size: 10.5, color: '#ff1a1a', family: FONT}});
});
layout.annotations.push({text: 'Time (sec)', x: px(340), y: py(539), xref: 'paper', yref: 'paper',
  showarrow: false, xanchor: 'center', yanchor: 'middle', font: {size: 14, color: '#111', family: FONT}});

// legend boxes (drawn as shapes + text)
function legendBox(x0, y0, x1, y1) {
  layout.shapes.push({type: 'rect', xref: 'paper', yref: 'paper', x0: px(x0 + 3), x1: px(x1 + 3), y0: py(y1 + 2.5), y1: py(y0 + 3),
    fillcolor: '#000', line: {width: 0}});
  layout.shapes.push({type: 'rect', xref: 'paper', yref: 'paper', x0: px(x0), x1: px(x1), y0: py(y1), y1: py(y0),
    fillcolor: '#fff', line: {color: '#777', width: 0.8}});
}
function legendMarker(cx, cy) {
  layout.shapes.push({type: 'circle', xref: 'paper', yref: 'paper', x0: px(cx - 2.2), x1: px(cx + 2.2), y0: py(cy + 2.2), y1: py(cy - 2.2),
    line: {color: BLUE, width: 1.5}});
}
function legendLine(xa, xb, y) {
  layout.shapes.push({type: 'line', xref: 'paper', yref: 'paper', x0: px(xa), x1: px(xb), y0: py(y), y1: py(y),
    line: {color: RED, width: 1.5, dash: '4px,1.5px,1.5px,1.5px'}});
}
function legendText(x, y, t) {
  layout.annotations.push({text: t, x: px(x), y: py(y), xref: 'paper', yref: 'paper', xanchor: 'left', yanchor: 'middle',
    showarrow: false, font: {size: 6.5, color: '#000', family: FONT}});
}
[[282, 12, 333.5, 30], [591.5, 12, 644, 30], [281.5, 271, 333.5, 289]].forEach(([x0, y0, x1, y1]) => {
  legendBox(x0, y0, x1, y1);
  legendMarker(x0 + 7.5, y0 + 4.5);
  legendText(x0 + 16, y0 + 4.5, 'Experiment');
  legendLine(x0 + 2, x0 + 15, y0 + 13);
  legendText(x0 + 16, y0 + 13, 'Calculation');
});
legendBox(590, 278.5, 644, 289);
legendLine(592, 606, 283.8);
legendText(607, 283.8, 'Calculation');

Plotly.newPlot('chart', data, layout, {staticPlot: true, displayModeBar: false});
</script>
</body></html>
